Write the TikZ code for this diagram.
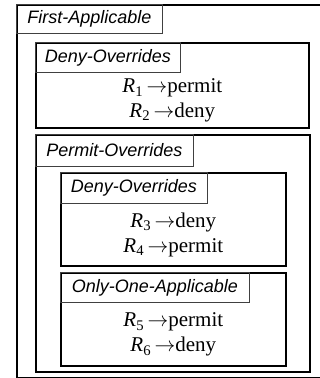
\documentclass[tikz,border=0pt]{standalone}
\usepackage{fontspec}
\setmainfont{Liberation Serif}
\setsansfont{Liberation Sans}
\usepackage{tikz}
\usetikzlibrary{positioning,calc}
\tikzset{
    block/.style={
           rectangle,
           draw=black, line width=1.6pt,
           anchor=north west,
           inner sep=0pt,
           },
    tag/.style={
           rectangle,
           draw=black!75, line width=0.8pt,
           anchor=north west,
           inner xsep=7pt, inner ysep=0pt,
           font=\fontsize{18}{21}\selectfont\sffamily\itshape,
           },
    rules/.style={
           align=center,
           inner sep=0pt,
           font=\fontsize{21}{25}\selectfont,
           },
}
\newcommand{\rl}[2]{\textit{R}\textsubscript{#1}\,$\rightarrow$#2}

\begin{document}
\begin{tikzpicture}[x=1pt,y=1pt]
        \useasboundingbox (0,0) rectangle (320,-378);
        % outer policy set
        \node[block, minimum width=330, minimum height=373] (FA) at (16,-4) {};
        \node[tag, minimum height=29, minimum width=146] (FAtag) at (FA.north west) {First-Applicable};
        % first child
        \node[block, minimum width=273, minimum height=85] (DO) at (35,-42) {};
        \node[tag, minimum height=30, minimum width=145] (DOtag) at (DO.north west) {Deny-Overrides};
        \node[rules] (R12) at ($(DOtag.south -| DO.center)!0.5!(DO.south)$) {\rl{1}{permit}\\\rl{2}{deny}};
        % second child
        \node[block, minimum width=274, minimum height=237] (PO) at (35,-134) {};
        \node[tag, minimum height=32, minimum width=158] (POtag) at (PO.north west) {Permit-Overrides};
        \node[block, minimum width=225, minimum height=93] (DOin) at (60,-172) {};
        \node[tag, minimum height=31, minimum width=147] (DOintag) at (DOin.north west) {Deny-Overrides};
        \node[rules] (R34) at ($(DOintag.south -| DOin.center)!0.5!(DOin.south)$) {\rl{3}{deny}\\\rl{4}{permit}};
        \node[block, minimum width=225, minimum height=93] (OOA) at (60,-272) {};
        \node[tag, minimum height=30, minimum width=189] (OOAtag) at (OOA.north west) {Only-One-Applicable};
        \node[rules] (R56) at ($(OOAtag.south -| OOA.center)!0.5!(OOA.south)$) {\rl{5}{permit}\\\rl{6}{deny}};
    \end{tikzpicture}
\end{document}
